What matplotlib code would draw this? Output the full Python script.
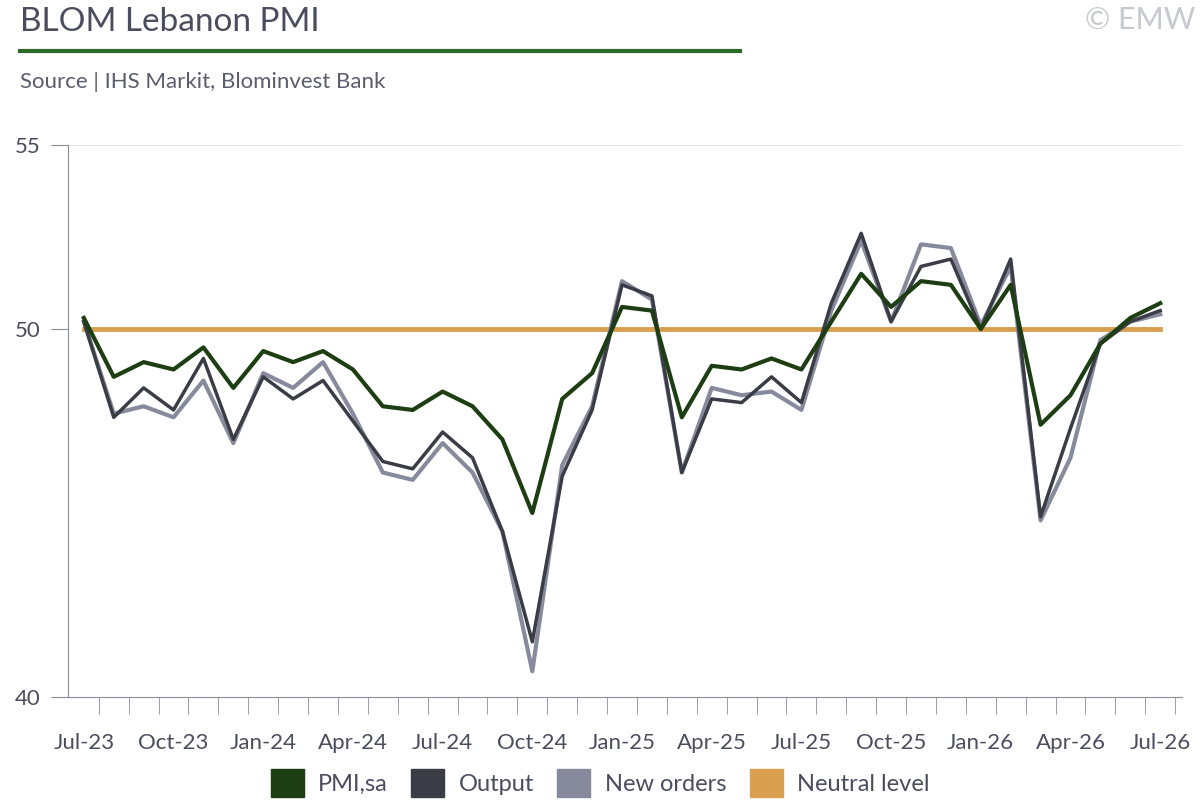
import matplotlib
matplotlib.use("Agg")
import matplotlib.pyplot as plt
from matplotlib.lines import Line2D

months = ["Jul-23","Aug-23","Sep-23","Oct-23","Nov-23","Dec-23","Jan-24","Feb-24","Mar-24","Apr-24","May-24","Jun-24",
          "Jul-24","Aug-24","Sep-24","Oct-24","Nov-24","Dec-24","Jan-25","Feb-25","Mar-25","Apr-25","May-25","Jun-25",
          "Jul-25","Aug-25","Sep-25","Oct-25","Nov-25","Dec-25","Jan-26","Feb-26","Mar-26","Apr-26","May-26","Jun-26","Jul-26"]
pmi = [50.3,48.7,49.1,48.9,49.5,48.4,49.4,49.1,49.4,48.9,47.9,47.8,48.3,47.9,47.0,45.0,48.1,48.8,50.6,50.5,47.6,49.0,48.9,49.2,
       48.9,50.2,51.5,50.6,51.3,51.2,50.0,51.2,47.4,48.2,49.6,50.3,50.7]
output = [50.2,47.6,48.4,47.8,49.2,47.0,48.7,48.1,48.6,47.5,46.4,46.2,47.2,46.5,44.5,41.5,46.0,47.8,51.2,50.9,46.1,48.1,48.0,48.7,
          48.0,50.7,52.6,50.2,51.7,51.9,50.0,51.9,44.9,47.3,49.6,50.2,50.5]
new_orders = [50.2,47.7,47.9,47.6,48.6,46.9,48.8,48.4,49.1,47.7,46.1,45.9,46.9,46.1,44.5,40.7,46.3,47.9,51.3,50.8,46.1,48.4,48.2,48.3,
              47.8,50.5,52.4,50.2,52.3,52.2,50.1,51.7,44.8,46.5,49.7,50.2,50.4]
neutral = 50.0
tick_labels = ["Jul-23","Oct-23","Jan-24","Apr-24","Jul-24","Oct-24","Jan-25","Apr-25","Jul-25","Oct-25","Jan-26","Apr-26","Jul-26"]

plt.rcParams['font.family'] = ['Lato', 'DejaVu Sans']
fig = plt.figure(figsize=(12, 8), dpi=100)
ax = fig.add_axes([68/1200, 1-697/800, (1182-68)/1200, (697-145)/800])
x = list(range(len(months)))
c_pmi, c_out, c_new, c_neu = "#1d3d12", "#3a3c46", "#878a9c", "#d9a050"
ax.plot(x, [neutral]*len(x), color=c_neu, lw=3.5, zorder=1)
ax.plot(x, new_orders, color=c_new, lw=3, zorder=2)
ax.plot(x, output, color=c_out, lw=2.5, zorder=3)
ax.plot(x, pmi, color=c_pmi, lw=3, zorder=4)
ax.set_xlim(-0.53, 36.73)
ax.set_ylim(40, 55)
ax.set_yticks([40, 50, 55])
ax.set_yticklabels(["40", "50", "55"])
ax.axhline(55, color="#d5e0ec", lw=1.2, zorder=0)
ax.set_xticks([i for i, m in enumerate(months) if m in tick_labels])
ax.set_xticklabels(tick_labels)
ax.set_xticks([i + 0.5 for i in range(len(months))], minor=True)
for s in ["top", "right"]:
    ax.spines[s].set_visible(False)
for s in ["left", "bottom"]:
    ax.spines[s].set_color("#8a8d9c")
ax.tick_params(axis="x", which="major", length=0, labelsize=16, labelcolor="#4a4d5e", pad=26)
ax.tick_params(axis="x", which="minor", length=12, color="#8a8d9c")
ax.tick_params(axis="y", length=12, color="#8a8d9c", labelsize=16, labelcolor="#4a4d5e", pad=8)
ax.set_facecolor("white")

fig.text(20/1200, 1-22/800, "BLOM Lebanon PMI", fontsize=24, color="#4a4d5e", va="center")
fig.add_artist(Line2D([20/1200, 740/1200], [1-51/800]*2, color="#2e6b2a", lw=3))
fig.text(20/1200, 1-82/800, "Source | IHS Markit, Blominvest Bank", fontsize=16, color="#5a5d6c", va="center")
fig.text(1195/1200, 1-20/800, "© EMW", fontsize=22, color="#c8c9d0", va="center", ha="right")

handles = [plt.Rectangle((0, 0), 1, 1, color=c) for c in [c_pmi, c_out, c_new, c_neu]]
fig.legend(handles, ["PMI,sa", "Output", "New orders", "Neutral level"], loc="center", bbox_to_anchor=(0.5, 1-783/800),
           ncol=4, frameon=False, fontsize=17, handlelength=1.4, handleheight=1.4, columnspacing=1.0,
           handletextpad=0.6, labelcolor="#4a4d5e")
fig.savefig("out.png", dpi=100)
